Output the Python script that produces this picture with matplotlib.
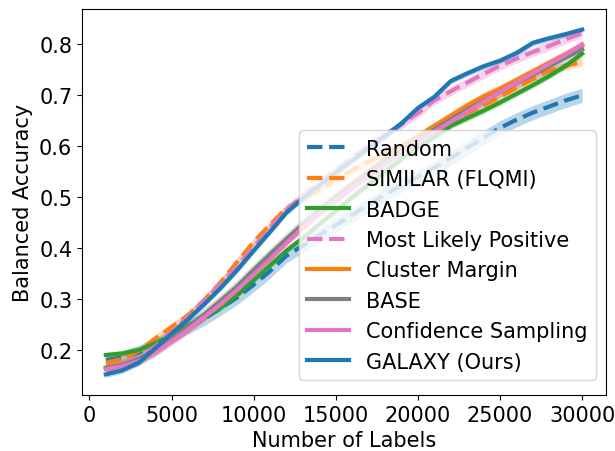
import numpy as np
import matplotlib
matplotlib.use("Agg")
import matplotlib.pyplot as plt

labels_x = [1000, 2000, 3000, 4000, 5000, 6000, 7000, 8000, 9000, 10000,
            11000, 12000, 13000, 14000, 15000, 16000, 17000, 18000, 19000, 20000,
            21000, 22000, 23000, 24000, 25000, 26000, 27000, 28000, 29000, 30000]

random_acc = [.180, .185, .195, .210, .228, .245, .262, .282, .303, .328,
              .355, .385, .405, .425, .445, .465, .485, .505, .523, .540,
              .558, .577, .597, .617, .636, .652, .666, .678, .690, .700]
similar_acc = [.175, .182, .198, .222, .245, .268, .298, .333, .373, .412,
               .446, .478, .497, .515, .535, .553, .570, .586, .601, .616,
               .633, .650, .665, .680, .697, .715, .732, .748, .758, .766]
badge_acc = [.190, .193, .200, .213, .230, .248, .265, .283, .308, .337,
             .366, .395, .420, .447, .473, .500, .525, .550, .575, .597,
             .618, .640, .655, .670, .686, .703, .720, .738, .758, .782]
mlp_acc = [.165, .172, .185, .207, .235, .265, .297, .330, .365, .402,
           .440, .475, .503, .528, .553, .577, .600, .622, .643, .665,
           .690, .708, .725, .742, .758, .772, .785, .797, .810, .822]
cluster_margin_acc = [.165, .170, .180, .198, .220, .242, .265, .290, .318, .350,
                      .382, .415, .445, .475, .500, .525, .550, .575, .598, .620,
                      .640, .660, .680, .698, .713, .730, .747, .764, .781, .797]
base_acc = [.165, .170, .182, .200, .222, .245, .270, .297, .325, .357,
            .388, .418, .447, .474, .500, .524, .547, .570, .592, .613,
            .633, .653, .672, .690, .707, .724, .740, .757, .774, .790]
confidence_acc = [.162, .168, .178, .195, .217, .240, .265, .290, .318, .348,
                  .378, .410, .440, .468, .494, .518, .542, .565, .587, .608,
                  .628, .648, .668, .688, .707, .725, .743, .762, .780, .800]
galaxy_acc = [.152, .160, .175, .203, .232, .260, .290, .322, .357, .395,
              .432, .470, .498, .523, .548, .572, .596, .620, .645, .675,
              .697, .728, .743, .757, .768, .783, .803, .812, .820, .829]

# half-width of the shaded bands (estimated per method)
band_random = 0.014
band_similar = 0.008
band_badge = 0.006
band_mlp = 0.009
band_cluster = 0.008
band_base = 0.012
band_conf = 0.008
band_galaxy = 0.006

method_names = ["Random", "SIMILAR (FLQMI)", "BADGE", "Most Likely Positive",
                "Cluster Margin", "BASE", "Confidence Sampling", "GALAXY (Ours)"]

series = [random_acc, similar_acc, badge_acc, mlp_acc,
          cluster_margin_acc, base_acc, confidence_acc, galaxy_acc]
bands = [band_random, band_similar, band_badge, band_mlp,
         band_cluster, band_base, band_conf, band_galaxy]
colors = ["#1f77b4", "#ff7f0e", "#2ca02c", "#e377c2",
          "#ff7f0e", "#7f7f7f", "#e377c2", "#1f77b4"]
styles = ["--", "--", "-", "--", "-", "-", "-", "-"]

plt.rcParams['font.family'] = ['DejaVu Sans']
fig = plt.figure(figsize=(6.15, 4.52), dpi=100)
ax = fig.add_axes([82/615, 1 - 396/452, (606-82)/615, (396-10)/452])

x = np.array(labels_x)
for name, ys, b, c, ls in zip(method_names, series, bands, colors, styles):
    ys = np.array(ys)
    ax.fill_between(x, ys - b, ys + b, color=c, alpha=0.3, linewidth=0)
    ax.plot(x, ys, ls, color=c, lw=3, label=name)

ax.set_xlabel("Number of Labels", fontsize=15)
ax.set_ylabel("Balanced Accuracy", fontsize=15)
ax.tick_params(labelsize=15)
ax.set_xticks([0, 5000, 10000, 15000, 20000, 25000, 30000])
ax.legend(loc="lower right", fontsize=15, bbox_to_anchor=(1.0, 0.012))

fig.savefig("out.png", dpi=100)
